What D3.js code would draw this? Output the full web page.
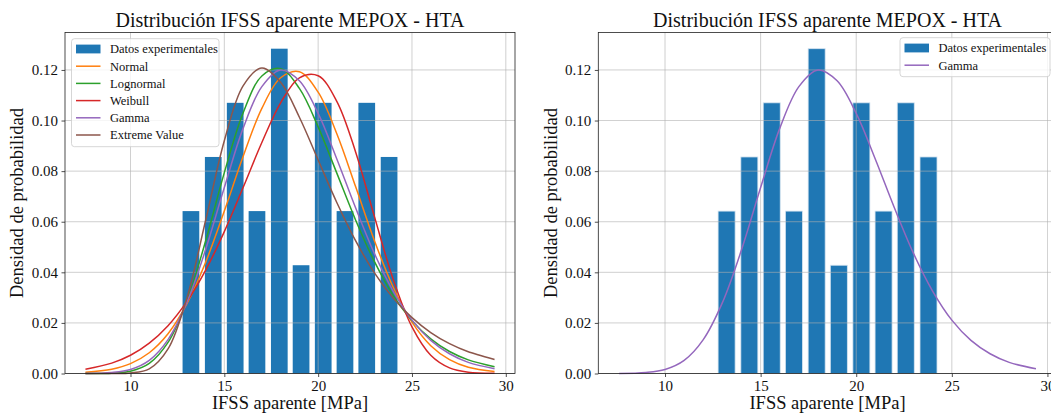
<html>
<head>
<script src="https://cdnjs.cloudflare.com/ajax/libs/d3/7.8.5/d3.min.js"></script>
<style>
body { margin: 0; background: white; }
svg { font-family: "Liberation Serif", "Times New Roman", serif; }
</style>
</head>
<body>
<svg id="canvas" width="1051" height="417"></svg>
<script>
// bar data (histogram, density)
var binCenters = [13.22, 14.41, 15.58, 16.74, 17.93, 19.09, 20.27, 21.43, 22.59, 23.78];
var density    = [0.0642, 0.0856, 0.1070, 0.0642, 0.1284, 0.0428, 0.1070, 0.0642, 0.1070, 0.0856];
var barWidth = 0.89;

// fitted curves
var xs       = [7.6, 9, 10, 11, 12, 13, 14, 15, 16, 17, 18, 19, 20, 21, 22, 23, 24, 25, 26, 27, 28, 29.4];
var normal   = [0.0005, 0.0017, 0.0039, 0.0082, 0.0157, 0.0275, 0.0439, 0.0642, 0.0858, 0.1048, 0.1169, 0.1193, 0.1112, 0.0947, 0.0738, 0.0525, 0.0341, 0.0203, 0.0110, 0.0055, 0.0025, 0.0008];
var lognorm  = [0.0000, 0.0001, 0.0009, 0.0040, 0.0123, 0.0285, 0.0523, 0.0794, 0.1030, 0.1176, 0.1205, 0.1127, 0.0975, 0.0791, 0.0606, 0.0442, 0.0309, 0.0209, 0.0137, 0.0087, 0.0054, 0.0027];
var weibull  = [0.0017, 0.0041, 0.0072, 0.0120, 0.0189, 0.0284, 0.0408, 0.0561, 0.0735, 0.0913, 0.1070, 0.1169, 0.1177, 0.1075, 0.0875, 0.0620, 0.0372, 0.0184, 0.0072, 0.0022, 0.0005, 0.0001];
var gamma    = [0.0000, 0.0004, 0.0016, 0.0052, 0.0134, 0.0280, 0.0489, 0.0735, 0.0969, 0.1134, 0.1200, 0.1157, 0.1028, 0.0847, 0.0654, 0.0474, 0.0325, 0.0211, 0.0131, 0.0078, 0.0044, 0.0019];
var extreme  = [0.0000, 0.0000, 0.0002, 0.0018, 0.0097, 0.0297, 0.0604, 0.0920, 0.1137, 0.1208, 0.1151, 0.1013, 0.0844, 0.0675, 0.0524, 0.0398, 0.0298, 0.0221, 0.0162, 0.0118, 0.0086, 0.0055];

var xTicks = [10, 15, 20, 25, 30];
var yTicks = [0, 0.02, 0.04, 0.06, 0.08, 0.10, 0.12];

var allSeries = [
  {name: "Normal", values: normal, color: "#ff7f0e"},
  {name: "Lognormal", values: lognorm, color: "#2ca02c"},
  {name: "Weibull", values: weibull, color: "#d62728"},
  {name: "Gamma", values: gamma, color: "#9467bd"},
  {name: "Extreme Value", values: extreme, color: "#8c564b"}
];

var svg = d3.select("#canvas");
svg.append("rect").attr("width", 1051).attr("height", 417).attr("fill", "white");

function drawPanel(p) {
  var x = d3.scaleLinear().domain([6.51, 30.49]).range([p.left, p.right]);
  var y = d3.scaleLinear().domain([0, 0.1348]).range([373.5, 32.5]);
  var g = svg.append("g");

  // bars
  g.selectAll("rect.bar").data(binCenters).enter().append("rect")
    .attr("class", "bar")
    .attr("x", function(d) { return x(d - barWidth / 2); })
    .attr("width", function(d) { return x(d + barWidth / 2) - x(d - barWidth / 2); })
    .attr("y", function(d, i) { return y(density[i]); })
    .attr("height", function(d, i) { return y(0) - y(density[i]); })
    .attr("fill", "#1f77b4")
    .attr("stroke", p.barEdge ? "#d6e4f0" : "none")
    .attr("stroke-width", 0.8);

  // grid above bars, below lines
  g.selectAll("line.gx").data(xTicks).enter().append("line")
    .attr("x1", function(d) { return x(d); }).attr("x2", function(d) { return x(d); })
    .attr("y1", y.range()[1]).attr("y2", y.range()[0])
    .attr("stroke", "#b0b0b0").attr("stroke-width", 0.8).attr("opacity", 0.75);
  g.selectAll("line.gy").data(yTicks).enter().append("line")
    .attr("x1", p.left).attr("x2", p.right)
    .attr("y1", function(d) { return y(d); }).attr("y2", function(d) { return y(d); })
    .attr("stroke", "#b0b0b0").attr("stroke-width", 0.8).attr("opacity", 0.75);

  var line = d3.line()
    .x(function(d, i) { return x(xs[i]); })
    .y(function(d) { return y(d); })
    .curve(d3.curveCatmullRom.alpha(0.5));

  p.series.forEach(function(s) {
    g.append("path").attr("d", line(s.values))
      .attr("fill", "none").attr("stroke", s.color).attr("stroke-width", 1.5);
  });

  // frame
  g.append("rect").attr("x", p.left).attr("y", 32.5)
    .attr("width", p.right - p.left).attr("height", 341)
    .attr("fill", "none").attr("stroke", "#222").attr("stroke-width", 0.8);

  // axes
  var xAxis = d3.axisBottom(x).tickValues(xTicks).tickSize(3.5).tickPadding(3.5).tickFormat(d3.format("d"));
  var yAxis = d3.axisLeft(y).tickValues(yTicks).tickSize(3.5).tickPadding(3.5).tickFormat(d3.format(".2f"));
  var ax = g.append("g").attr("transform", "translate(0,373.5)").call(xAxis);
  var ay = g.append("g").attr("transform", "translate(" + p.left + ",0)").call(yAxis);
  [ax, ay].forEach(function(a) {
    a.select(".domain").remove();
    a.selectAll(".tick line").attr("stroke", "#222").attr("stroke-width", 0.8);
    a.selectAll(".tick text").attr("fill", "#111").style("font-size", "15px")
      .style("font-family", "Liberation Serif, serif");
  });

  // titles
  g.append("text").attr("x", (p.left + p.right) / 2).attr("y", 27)
    .attr("text-anchor", "middle").style("font-size", "20px").attr("fill", "#111")
    .text("Distribución IFSS aparente MEPOX - HTA");
  g.append("text").attr("x", (p.left + p.right) / 2).attr("y", 409)
    .attr("text-anchor", "middle").style("font-size", "18.5px").attr("fill", "#111")
    .text("IFSS aparente [MPa]");
  g.append("text")
    .attr("transform", "translate(" + p.ylabX + ",203) rotate(-90)")
    .attr("text-anchor", "middle").style("font-size", "18.5px").attr("fill", "#111")
    .text("Densidad de probabilidad");

  // legend
  var L = p.legend;
  var lg = g.append("g");
  lg.append("rect").attr("x", L.x).attr("y", L.y).attr("width", L.w).attr("height", L.h)
    .attr("rx", 3).attr("fill", "white").attr("fill-opacity", 0.8)
    .attr("stroke", "#cccccc").attr("stroke-width", 0.8);
  var rows = [{name: "Datos experimentales", bar: true}].concat(p.series);
  rows.forEach(function(r, i) {
    var cy = L.y + 10.3 + i * 17.2;
    if (r.bar) {
      lg.append("rect").attr("x", L.x + 4.5).attr("y", cy - 4.4).attr("width", 24.5).attr("height", 8.8)
        .attr("fill", "#1f77b4");
    } else {
      lg.append("line").attr("x1", L.x + 4.5).attr("x2", L.x + 29).attr("y1", cy).attr("y2", cy)
        .attr("stroke", r.color).attr("stroke-width", 1.5);
    }
    lg.append("text").attr("x", L.x + 38.5).attr("y", cy + 4.3)
      .style("font-size", "12.5px").attr("fill", "#111").text(r.name);
  });
}

drawPanel({left: 65, right: 515, ylabX: 23, series: allSeries, barEdge: false,
  legend: {x: 71.5, y: 38.7, w: 147.5, h: 108}});
drawPanel({left: 598.3, right: 1056.8, ylabX: 557, series: [allSeries[3]], barEdge: true,
  legend: {x: 900, y: 37.7, w: 150, h: 39}});
</script>
</body>
</html>
